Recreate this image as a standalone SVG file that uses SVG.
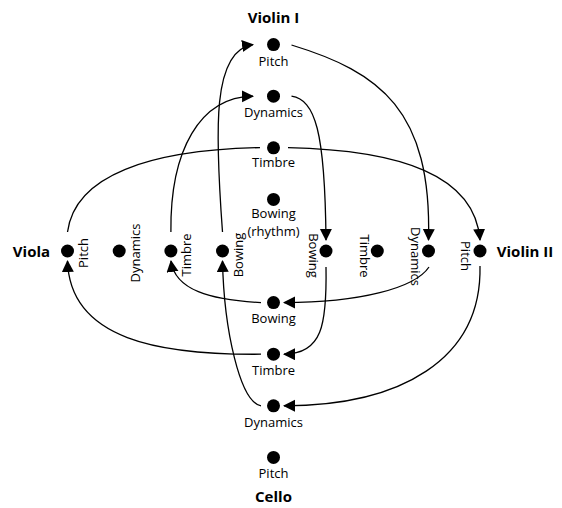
<svg xmlns="http://www.w3.org/2000/svg" width="562" height="508" viewBox="0 0 562 508">
<style>
.dot{fill:#000}
.lbl{font-family:"Open Sans","Liberation Sans",sans-serif;font-size:13px;fill:#000;text-anchor:middle}
.ttl{font-family:"Open Sans","Liberation Sans",sans-serif;font-size:15px;font-weight:bold;fill:#000;text-anchor:middle}
.c{fill:none;stroke:#000;stroke-width:1.3}
.a{marker-end:url(#arr)}
</style>
<defs>
<marker id="arr" markerUnits="userSpaceOnUse" markerWidth="13" markerHeight="13" refX="11" refY="6" orient="auto">
<path d="M0,0 L12,6 L0,12 Z" fill="#000"/>
</marker>
</defs>
<rect width="562" height="508" fill="#fff"/>
<g id="titles">
<text class="ttl" x="273.5" y="23">Violin I</text>
<text class="ttl" x="31.5" y="257">Viola</text>
<text class="ttl" x="525" y="257">Violin II</text>
<text class="ttl" x="273.5" y="501.5">Cello</text>
</g>
<g id="connectors">
<path class="c a" d="M222.5,232 C215,130 212,50 253,44.6"/>
<path class="c a" d="M170.9,232 C170,150 200,97 253,96.2"/>
<path class="c" d="M67.5,232 C75,175 150,150 260,147.6"/>
<path class="c a" d="M288,147.6 C400,150 475,175 480,240"/>
<path class="c a" d="M291.5,45 C380,72 432,110 428.5,240"/>
<path class="c a" d="M291.5,96.2 C315,100 325,130 326,240"/>
<path class="c a" d="M480,266 C482,360 400,405.8 284,405.8"/>
<path class="c a" d="M429,267 C415,288 360,302.6 284,302.6"/>
<path class="c a" d="M326,267 C327,325 322,354.2 284,354.2"/>
<path class="c a" d="M261,302.6 C210,300 175,290 171,261"/>
<path class="c a" d="M261,354.2 C160,355 70,340 67.5,261"/>
<path class="c a" d="M261,405.8 C240,402 224,330 222.5,261"/>
</g>
<g id="v1-pitch"><circle class="dot" cx="273.5" cy="44.6" r="6.5"/><text class="lbl" x="273.5" y="65.5">Pitch</text></g>
<g id="v1-dynamics"><circle class="dot" cx="273.5" cy="96.2" r="6.5"/><text class="lbl" x="273.5" y="117">Dynamics</text></g>
<g id="v1-timbre"><circle class="dot" cx="273.5" cy="147.8" r="6.5"/><text class="lbl" x="273.5" y="167">Timbre</text></g>
<g id="v1-bowing"><circle class="dot" cx="273.5" cy="199.4" r="6.5"/><text class="lbl" x="273.5" y="217.5">Bowing</text><text class="lbl" x="273.5" y="235.5">(rhythm)</text></g>
<g id="va-pitch"><circle class="dot" cx="67.5" cy="251" r="6.5"/><text class="lbl" transform="translate(88,253) rotate(-90)">Pitch</text></g>
<g id="va-dynamics"><circle class="dot" cx="119.2" cy="251" r="6.5"/><text class="lbl" transform="translate(139.7,253) rotate(-90)">Dynamics</text></g>
<g id="va-timbre"><circle class="dot" cx="170.9" cy="251" r="6.5"/><text class="lbl" transform="translate(191.4,255) rotate(-90)">Timbre</text></g>
<g id="va-bowing"><circle class="dot" cx="222.5" cy="251" r="6.5"/><text class="lbl" transform="translate(243,255) rotate(-90)">Bowing</text></g>
<g id="v2-bowing"><circle class="dot" cx="326" cy="251" r="6.5"/><text class="lbl" transform="translate(308.5,255.5) rotate(90)">Bowing</text></g>
<g id="v2-timbre"><circle class="dot" cx="377.3" cy="251" r="6.5"/><text class="lbl" transform="translate(359.5,256) rotate(90)">Timbre</text></g>
<g id="v2-dynamics"><circle class="dot" cx="428.5" cy="251" r="6.5"/><text class="lbl" transform="translate(411,256.5) rotate(90)">Dynamics</text></g>
<g id="v2-pitch"><circle class="dot" cx="480" cy="251" r="6.5"/><text class="lbl" transform="translate(461,256) rotate(90)">Pitch</text></g>
<g id="c-bowing"><circle class="dot" cx="273.5" cy="302.6" r="6.5"/><text class="lbl" x="273.5" y="323.3">Bowing</text></g>
<g id="c-timbre"><circle class="dot" cx="273.5" cy="354.2" r="6.5"/><text class="lbl" x="273.5" y="375">Timbre</text></g>
<g id="c-dynamics"><circle class="dot" cx="273.5" cy="405.8" r="6.5"/><text class="lbl" x="273.5" y="426.7">Dynamics</text></g>
<g id="c-pitch"><circle class="dot" cx="273.5" cy="457.4" r="6.5"/><text class="lbl" x="273.5" y="478.3">Pitch</text></g>
</svg>
